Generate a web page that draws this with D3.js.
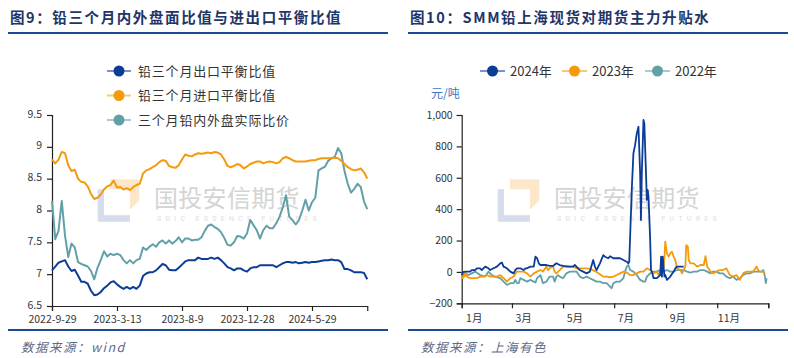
<!DOCTYPE html>
<html><head><meta charset="utf-8">
<script src="https://cdn.jsdelivr.net/npm/d3@7"></script>
<style>
html,body{margin:0;padding:0;background:#fff;}
svg{display:block;font-family:"Noto Sans CJK SC","Noto Sans",sans-serif;}
</style></head>
<body>
<svg id="c" width="794" height="358"></svg>
<script>
// ---------- Left chart data (图9) ----------
const leftTickLabels = ["2022-9-29","2023-3-13","2023-8-9","2023-12-28","2024-5-29"];
const leftYTicks = [6.5,7,7.5,8,8.5,9,9.5];
const leftSeriesNames = ["铅三个月出口平衡比值","铅三个月进口平衡比值","三个月铅内外盘实际比价"];
const exportRatio = [7.06,7.12,7.18,7.20,7.22,7.12,7.05,7.07,6.98,6.88,
 6.88,6.85,6.74,6.67,6.68,6.72,6.78,6.82,6.87,6.89,
 6.84,6.80,6.77,6.80,6.77,6.80,6.77,6.82,6.97,7.01,
 7.03,7.03,7.06,7.11,7.16,7.14,7.07,7.06,7.06,7.10,
 7.15,7.20,7.22,7.22,7.22,7.26,7.24,7.24,7.24,7.26,
 7.24,7.26,7.22,7.17,7.11,7.09,7.06,7.09,7.09,7.06,
 7.04,7.09,7.11,7.11,7.14,7.14,7.14,7.14,7.14,7.11,
 7.14,7.17,7.19,7.19,7.18,7.19,7.17,7.18,7.19,7.18,
 7.19,7.19,7.20,7.21,7.22,7.22,7.23,7.22,7.22,7.19,
 7.08,7.08,7.06,7.03,7.03,7.03,7.02,6.92];
const importRatio = [8.80,8.74,8.80,8.92,8.90,8.71,8.62,8.64,8.50,8.45,
 8.44,8.38,8.26,8.18,8.20,8.25,8.33,8.38,8.40,8.47,
 8.36,8.37,8.33,8.35,8.32,8.37,8.40,8.42,8.58,8.63,
 8.65,8.68,8.71,8.76,8.79,8.78,8.70,8.68,8.67,8.71,
 8.80,8.88,8.86,8.85,8.88,8.90,8.89,8.90,8.91,8.90,
 8.92,8.91,8.88,8.80,8.70,8.68,8.70,8.73,8.71,8.66,
 8.69,8.73,8.75,8.77,8.77,8.74,8.76,8.77,8.76,8.74,
 8.76,8.82,8.84,8.82,8.79,8.77,8.77,8.77,8.77,8.78,
 8.79,8.79,8.81,8.82,8.82,8.82,8.82,8.83,8.82,8.78,
 8.73,8.68,8.65,8.63,8.64,8.66,8.60,8.50];
const actualRatio = [8.15,7.55,7.68,8.15,7.61,7.27,7.48,7.42,7.19,7.16,
 7.14,7.12,7.05,6.92,7.10,7.22,7.36,7.28,7.32,7.30,
 7.32,7.30,7.22,7.17,7.22,7.17,7.22,7.24,7.42,7.38,
 7.43,7.47,7.43,7.50,7.53,7.48,7.53,7.48,7.52,7.58,
 7.50,7.56,7.56,7.53,7.54,7.54,7.58,7.68,7.76,7.78,
 7.74,7.71,7.66,7.57,7.46,7.45,7.50,7.60,7.59,7.56,
 7.64,7.85,7.77,7.69,7.56,7.69,7.76,7.72,7.72,7.80,
 7.90,8.05,8.24,7.90,7.85,7.78,7.85,8.00,8.17,8.00,
 8.13,8.20,8.63,8.66,8.69,8.78,8.82,8.84,8.98,8.90,
 8.62,8.42,8.28,8.34,8.42,8.37,8.14,8.02];

// ---------- Right chart data (图10) ----------
const monthStartDays = [0,60,121,182,244,305,366];
const monthLabelDays = [15,74,135,196,258,319];
const monthLabels = ["1月","3月","5月","7月","9月","11月"];
const rightYTicks = [-200,0,200,400,600,800,1000];
const yearNames = ["2024年","2023年","2022年"];
const days2024 = [0,2,6,10,12,16,18,22,24,28,32,34,38,42,46,48,50,54,58,62,64,66,70,74,76,78,82,86,88,90,92,94,97,101,105,109,113,117,121,125,129,133,135,137,141,145,149,153,157,159,161,163,165,169,171,175,177,181,185,189,193,197,199,200,203,205,207,209,211,213,214,215,217,218,220,221,222,223,225,226,227,229,233,235,237,238,239,240,242,243,245,249,253,255,257,261,265];
const vals2024 = [-20,0,2,2,12,12,23,23,12,34,23,12,23,34,55,59,34,23,2,-9,12,23,23,12,23,23,34,34,97,87,55,44,44,44,38,38,55,44,38,34,34,34,44,34,12,2,-9,2,76,34,12,34,55,107,97,87,100,87,87,87,76,65,55,65,522,756,808,883,925,629,331,629,968,947,629,459,522,480,204,12,2,-40,-40,-30,-20,97,-30,97,-30,-20,-51,-30,2,23,34,34,34];
const days2023 = [0,1,3,4,6,10,14,18,22,26,30,34,38,42,46,50,54,58,62,66,70,74,78,82,86,90,94,97,101,103,105,109,111,113,117,121,125,129,133,137,141,145,149,153,157,161,165,169,173,177,181,185,189,193,197,201,205,209,213,217,221,225,229,233,235,237,239,241,242,243,245,247,249,251,253,255,257,261,263,265,267,268,270,271,273,277,281,285,289,291,293,297,300,304,308,312,316,320,324,328,332,334,336,340,344,348,352,354,356,360,362];
const vals2023 = [-20,-40,-30,2,-30,-40,-40,-40,-30,-30,-20,-30,-30,-30,-20,-40,-62,-40,-30,2,2,2,-9,-30,-9,2,12,2,34,12,23,34,2,-9,12,34,38,34,34,23,23,23,23,20,10,0,-15,-30,-30,-34,-30,-20,-9,2,-4,-20,-20,-9,2,2,23,12,-9,2,-20,2,2,34,87,193,118,97,118,129,97,76,23,12,-9,12,34,171,161,76,55,55,34,44,44,101,34,2,-9,2,12,12,23,-20,-30,-20,-51,-30,-9,2,2,2,34,12,2,2,-9];
const days2022 = [0,4,8,12,16,22,28,32,36,40,46,50,54,58,62,64,66,68,70,74,78,82,86,88,90,94,97,101,105,109,111,113,115,117,121,125,129,133,137,141,145,149,153,157,161,165,169,173,177,179,181,185,189,193,195,197,199,201,205,209,213,217,219,221,225,229,233,237,241,245,249,253,257,261,265,269,273,277,281,285,289,293,297,300,304,308,312,316,320,324,328,332,336,340,344,348,352,356,358,360,362,363,364];
const vals2022 = [-30,-9,-20,-9,2,-20,-30,2,-20,-30,-40,-62,-83,-72,-72,-51,-72,-72,-40,-51,-62,-51,-62,-68,-40,-20,-72,-62,-30,-30,-62,-30,-20,-30,-40,-9,2,2,2,-30,-40,-30,-40,-51,-62,-62,-72,-72,-94,-104,-72,-62,-62,-40,2,34,44,12,2,-20,-51,-62,-62,-30,-9,2,2,12,2,12,2,2,12,12,12,2,-4,2,2,12,12,2,-9,2,2,-9,-9,-30,-40,-30,-51,-40,-20,-9,-9,2,2,2,2,12,-30,-72,-40];

// ---------- styles ----------
const C_BLUE = "#0b3c96", C_ORANGE = "#f59a0c", C_TEAL = "#62a0a8";
const C_TITLE = "#1f3567", C_RULE = "#1c4a94";

const svg = d3.select("#c");
svg.append("rect").attr("width",794).attr("height",358).attr("fill","#fff");

function panelFrame(x0, title, source){
  svg.append("text").attr("x", x0+10).attr("y", 23).attr("fill", C_TITLE)
    .attr("font-size", 14.5).attr("font-weight", "bold").attr("letter-spacing", 1.6).text(title);
  svg.append("line").attr("x1", x0+8).attr("x2", x0+388).attr("y1", 33).attr("y2", 33)
    .attr("stroke", C_RULE).attr("stroke-width", 2);
  svg.append("line").attr("x1", x0+8).attr("x2", x0+388).attr("y1", 330).attr("y2", 330)
    .attr("stroke", C_RULE).attr("stroke-width", 2);
  svg.append("text").attr("x", x0+21).attr("y", 352).attr("fill", "#5f6b86")
    .attr("font-size", 12.5).attr("font-style", "italic").attr("letter-spacing", 1.5).text(source);
}
function watermark(x0){
  const g = svg.append("g").attr("transform", `translate(${x0},0)`);
  g.append("path").attr("d","M97.7,189.3H104V215.2H130V221.7H97.7Z").attr("fill","#d5dcec");
  g.append("path").attr("d","M110,179.3H139.3V200.5L130,209.8V189.3H110Z").attr("fill","#fce7ca");
  g.append("text").attr("x",154).attr("y",207).attr("font-size",24).attr("fill","#d4d4d4")
    .attr("letter-spacing",0.3).text("国投安信期货");
  g.append("text").attr("x",157).attr("y",221).attr("font-size",7).attr("fill","#dedede")
    .attr("letter-spacing",4.3).attr("font-family","Roboto, sans-serif").text("SDIC ESSENCE FUTURES");
}
function styleAxis(g){
  g.selectAll(".domain").attr("stroke","#222").attr("stroke-width",1.2);
  g.selectAll(".tick line").attr("stroke","#222").attr("stroke-width",1.2);
  g.selectAll(".tick text").attr("fill","#333").attr("font-size",10.5)
    .attr("font-family","'Noto Sans CJK SC',sans-serif");
}

// ---------- Left panel ----------
panelFrame(0, "图9：铅三个月内外盘面比值与进出口平衡比值", "数据来源：wind");
watermark(0);
const lx = d3.scaleLinear().domain([0, exportRatio.length-1]).range([52, 52 + 3.25*(exportRatio.length-1)]);
const ly = d3.scaleLinear().domain([6.5, 9.5]).range([306, 115]);
const lxAxis = svg.append("g").attr("transform","translate(0,306)")
  .call(d3.axisBottom(lx).tickValues(leftTickLabels.map((d,i)=>i*20)).tickFormat((d,i)=>leftTickLabels[i]).tickSizeOuter(0).tickSize(5).tickPadding(5));
styleAxis(lxAxis);
const lyAxis = svg.append("g").attr("transform","translate(52,0)")
  .call(d3.axisLeft(ly).tickValues(leftYTicks).tickFormat(d=>String(d)).tickSizeOuter(0).tickSize(5).tickPadding(5));
styleAxis(lyAxis);
lyAxis.selectAll(".tick text").attr("dy","0.2em");
const leftSeries = [
  {vals: actualRatio, color: C_TEAL},
  {vals: importRatio, color: C_ORANGE},
  {vals: exportRatio, color: C_BLUE}
];
const lline = d3.line().x((d,i)=>lx(i)).y(d=>ly(d));
leftSeries.forEach(s=>{
  svg.append("path").datum(s.vals).attr("d", lline).attr("fill","none")
    .attr("stroke", s.color).attr("stroke-width", 2).attr("stroke-linejoin","round");
});
const leftLegColors = [C_BLUE, C_ORANGE, C_TEAL];
leftSeriesNames.forEach((n,i)=>{
  const y = 71 + i*24.5;
  svg.append("line").attr("x1",107).attr("x2",131).attr("y1",y).attr("y2",y)
    .attr("stroke",leftLegColors[i]).attr("stroke-opacity",0.55).attr("stroke-width",2);
  svg.append("circle").attr("cx",119).attr("cy",y).attr("r",5.5).attr("fill",leftLegColors[i]);
  svg.append("text").attr("x",138).attr("y",y).attr("dy","0.36em").attr("font-size",13)
    .attr("fill","#333").attr("letter-spacing",0.8).text(n);
});

// ---------- Right panel ----------
panelFrame(400, "图10：SMM铅上海现货对期货主力升贴水", "数据来源：上海有色");
watermark(400);
const rx = d3.scaleLinear().domain([0, 366]).range([461.7, 768.3]);
const ry = d3.scaleLinear().domain([-200, 1000]).range([303.3, 115]);
const rxAxis = svg.append("g").attr("transform","translate(0,303.3)")
  .call(d3.axisBottom(rx).tickValues(monthStartDays).tickFormat("").tickSizeOuter(0).tickSize(5));
styleAxis(rxAxis);
monthLabels.forEach((m,i)=>{
  svg.append("text").attr("x", rx(monthLabelDays[i])).attr("y", 322).attr("text-anchor","middle")
    .attr("font-size",10.5).attr("fill","#333").text(m);
});
const ryAxis = svg.append("g").attr("transform","translate(461.7,0)")
  .call(d3.axisLeft(ry).tickValues(rightYTicks).tickFormat(d3.format(",")).tickSizeOuter(0).tickSize(5).tickPadding(4));
styleAxis(ryAxis);
svg.append("text").attr("x",431).attr("y",98).attr("font-size",12).attr("fill","#4472c4").text("元/吨");
const rightSeries = [
  {days: days2022, vals: vals2022, color: C_TEAL},
  {days: days2023, vals: vals2023, color: C_ORANGE},
  {days: days2024, vals: vals2024, color: C_BLUE}
];
const rline = d3.line().x(d=>rx(d[0])).y(d=>ry(d[1]));
rightSeries.forEach(s=>{
  const pts = s.days.map((d,i)=>[d, s.vals[i]]);
  svg.append("path").datum(pts).attr("d", rline).attr("fill","none")
    .attr("stroke", s.color).attr("stroke-width", 1.8).attr("stroke-linejoin","round");
});
const rLegColors = [C_BLUE, C_ORANGE, C_TEAL];
const rLegX = [480, 562, 645];
yearNames.forEach((n,i)=>{
  const x = rLegX[i], y = 71;
  svg.append("line").attr("x1",x).attr("x2",x+25).attr("y1",y).attr("y2",y)
    .attr("stroke",rLegColors[i]).attr("stroke-opacity",0.55).attr("stroke-width",2);
  svg.append("circle").attr("cx",x+12.5).attr("cy",y).attr("r",5.5).attr("fill",rLegColors[i]);
  svg.append("text").attr("x",x+30).attr("y",y).attr("dy","0.36em").attr("font-size",13)
    .attr("fill","#333").text(n);
});
</script>
</body></html>
